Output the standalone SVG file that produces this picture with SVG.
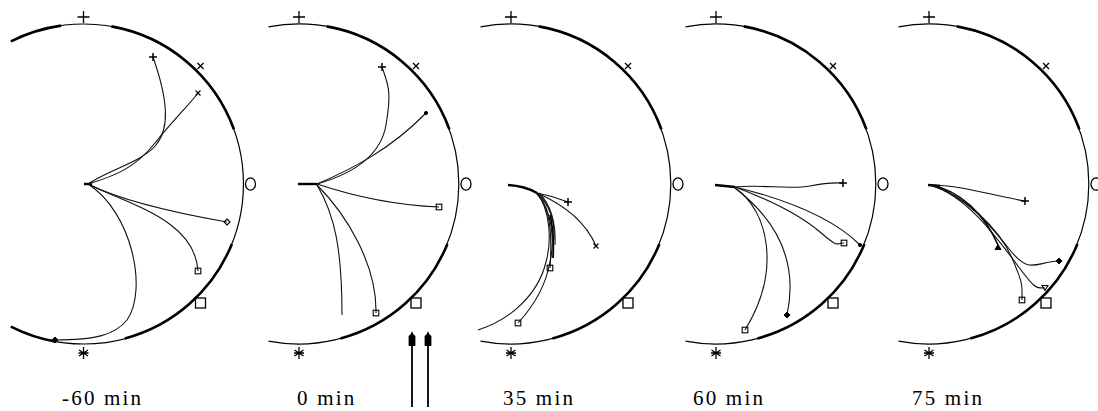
<svg xmlns="http://www.w3.org/2000/svg" width="1098" height="411" viewBox="0 0 1098 411">
<style>
.thin{fill:none;stroke:#000;stroke-width:1.2}
.thick{fill:none;stroke:#000;stroke-width:2.6}
.trk{fill:none;stroke:#111;stroke-width:1.1}
.bold{fill:none;stroke:#000;stroke-width:2.4}
.mk{fill:none;stroke:#000;stroke-width:1.3}
.em{fill:none;stroke:#000;stroke-width:1.1}
.ef{fill:#000;stroke:#000;stroke-width:1}
.arr{fill:none;stroke:#000;stroke-width:1.8}
.lbl{font-family:"Liberation Serif","Times New Roman",serif;font-size:21px;letter-spacing:2.2px;fill:#000}
</style>
<defs>
  <g id="frame">
    <path class="thin" d="M-30.5,26.9 A160,160 0 1 1 -30.5,341.1"/>
    <path class="thick" d="M27.8,26.4 A160,160 0 0 1 150.4,129.3"/>
    <path class="thick" d="M148.4,243.9 A160,160 0 0 1 41.4,338.5"/>
  </g>
  <g id="marks">
    <path class="mk" d="M-6,17H6M0,11V23"/>
    <path class="mk" d="M114,63l6,6m0,-6l-6,6"/>
    <ellipse class="mk" cx="167" cy="184" rx="5" ry="6.2"/>
    <rect class="mk" x="112" y="298" width="10" height="10"/>
    <path class="mk" d="M0,347V359M-4.5,350l9,6M4.5,350l-9,6M-5,353H5"/>
  </g>
  <path id="sp" d="M-4,0H4M0,-4V4"/>
  <path id="sx" d="M-2.5,-2.5L2.5,2.5M2.5,-2.5L-2.5,2.5"/>
  <rect id="ss" x="-2.8" y="-2.8" width="5.6" height="5.6"/>
  <path id="sd" d="M0,-3L3,0L0,3L-3,0Z"/>
  <path id="st" d="M-3,-2.5H3L0,2.5Z"/>
  <circle id="sdot" r="1.6"/>
  <marker id="ah" viewBox="-7 -4 17 8" refX="0" refY="0" markerWidth="17" markerHeight="8" markerUnits="userSpaceOnUse" orient="auto">
    <path d="M9,0 L6,-1.2 L4,-3.4 L-6,-3.4 L-6,3.4 L4,3.4 L6,1.2 Z" fill="#000"/>
  </marker>
</defs>

<!-- Panel 1: -60 min -->
<g id="panel-m60">
  <g transform="translate(83.5,0)">
    <path class="thin" d="M-72.6,41.4 A160,160 0 1 1 -72.6,326.6"/>
    <path class="thick" d="M-72.6,41.4 A160,160 0 0 1 -22.3,25.6"/>
    <path class="thick" d="M27.8,26.4 A160,160 0 0 1 150.4,129.3"/>
    <path class="thick" d="M148.4,243.9 A160,160 0 0 1 41.4,338.5"/>
    <path class="thick" d="M-27.8,341.6 A160,160 0 0 1 -72.6,326.6"/>
    <use href="#marks"/>
  </g>
  <g id="tracks-m60">
    <path class="bold" d="M84,184 L92,184"/>
    <path class="trk" d="M88,184 C108,170 142,162 156,145 S168,100 153,57"/>
    <path class="trk" d="M88,184 C115,176 135,168 155,143 S190,104 198,93"/>
    <path class="trk" d="M88,184 Q130,205 227,222"/>
    <path class="trk" d="M88,184 C130,205 195,220 198,271"/>
    <path class="trk" d="M88,184 C132,212 148,290 127,320 C115,335 95,340 55,340"/>
    <use href="#sp" x="153" y="57" class="em" style="stroke-width:1.5"/>
    <use href="#sx" x="198" y="93" class="em"/>
    <use href="#sd" x="227" y="222" class="em"/>
    <use href="#ss" x="198" y="271" class="em"/>
    <use href="#sd" x="55" y="340" class="ef"/>
  </g>
  <text class="lbl" x="62" y="405">-60 min</text>
</g>

<!-- Panel 2: 0 min -->
<g id="panel-0">
  <g transform="translate(299,0)">
    <use href="#frame"/>
    <use href="#marks"/>
  </g>
  <g id="tracks-0">
    <path class="bold" d="M298,184 L317,184"/>
    <path class="trk" d="M317,184 C345,176 380,160 386,125 S388,85 382,67"/>
    <path class="trk" d="M317,184 C350,170 390,150 426,113"/>
    <path class="trk" d="M317,184 C350,195 390,205 439,207"/>
    <path class="trk" d="M317,185 C347,215 377,265 376,313"/>
    <path class="trk" d="M317,185 C335,215 342,250 342,315"/>
    <use href="#sp" x="382" y="67" class="em" style="stroke-width:1.5"/>
    <use href="#sdot" x="426" y="113" class="ef"/>
    <use href="#ss" x="439" y="207" class="em"/>
    <use href="#ss" x="376" y="313" class="em"/>
  </g>
  <text class="lbl" x="297" y="405">0 min</text>
</g>

<!-- Arrows -->
<g id="arrows">
  <line class="arr" x1="412" y1="407" x2="412" y2="340" marker-end="url(#ah)"/>
  <line class="arr" x1="428" y1="407" x2="428" y2="340" marker-end="url(#ah)"/>
</g>

<!-- Panel 3: 35 min -->
<g id="panel-35">
  <g transform="translate(511,0)">
    <use href="#frame"/>
    <use href="#marks"/>
  </g>
  <g id="tracks-35">
    <path class="bold" d="M508,185 Q525,186 537,193"/>
    <path class="trk" d="M537,193 Q553,196 568,202"/>
    <path class="trk" d="M537,193 C560,203 585,220 596,246"/>
    <path class="trk" d="M535,192 C548,203 553,225 550,268"/>
    <path class="trk" d="M537,193 C550,205 555,222 554,240"/>
    <path class="trk" d="M539,193 C551,205 556,222 555,245"/>
    <path class="bold" style="stroke-width:1.8" d="M550,215 C553,228 554,240 553,258"/>
    <path class="trk" d="M537,193 C552,210 555,240 550,262 C545,290 530,310 518,323"/>
    <path class="trk" d="M537,193 C550,210 552,240 546,262 C538,295 510,320 478,330"/>
    <use href="#sp" x="568" y="202" class="em" style="stroke-width:1.5"/>
    <use href="#sx" x="596" y="246" class="em"/>
    <use href="#ss" x="550" y="268" class="em"/>
    <use href="#ss" x="518" y="323" class="em"/>
  </g>
  <text class="lbl" x="503" y="405">35 min</text>
</g>

<!-- Panel 4: 60 min -->
<g id="panel-60">
  <g transform="translate(716,0)">
    <use href="#frame"/>
    <use href="#marks"/>
  </g>
  <g id="tracks-60">
    <path class="bold" d="M715,185 L735,187"/>
    <path class="trk" d="M735,187 C760,184 790,190 810,186 S835,183 843,183"/>
    <path class="trk" d="M735,187 C770,200 800,215 820,232 S835,243 844,243"/>
    <path class="trk" d="M735,187 C780,198 830,215 860,245"/>
    <path class="trk" d="M735,188 C770,215 800,255 787,315"/>
    <path class="trk" d="M735,188 C768,210 782,270 745,330"/>
    <use href="#sp" x="843" y="183" class="em" style="stroke-width:1.5"/>
    <use href="#ss" x="844" y="243" class="em"/>
    <use href="#sdot" x="860" y="245" class="ef"/>
    <use href="#sd" x="787" y="315" class="ef"/>
    <use href="#ss" x="745" y="330" class="em"/>
  </g>
  <text class="lbl" x="693" y="405">60 min</text>
</g>

<!-- Panel 5: 75 min -->
<g id="panel-75">
  <g transform="translate(929,0)">
    <use href="#frame"/>
    <use href="#marks"/>
  </g>
  <g id="tracks-75">
    <path class="bold" d="M928,185 L940,186"/>
    <path class="trk" d="M930,185 C960,185 990,195 1025,201"/>
    <path class="bold" style="stroke-width:1.6" d="M930,185 C960,190 985,215 998,245"/>
    <path class="trk" d="M930,185 C965,195 990,225 1010,250 S1035,262 1059,261"/>
    <path class="trk" d="M930,185 C965,195 995,235 1015,262 S1035,288 1045,288"/>
    <path class="trk" d="M930,185 C965,195 1000,230 1012,258 S1022,285 1022,300"/>
    <use href="#sp" x="1025" y="201" class="em" style="stroke-width:1.5"/>
    <use href="#sd" x="1059" y="261" class="ef"/>
    <use href="#st" x="1045" y="288" class="em"/>
    <use href="#ss" x="1022" y="300" class="em"/>
    <use href="#st" x="998" y="247" class="ef" transform="rotate(180 998 247)"/>
  </g>
  <text class="lbl" x="912" y="405">75 min</text>
</g>
</svg>
